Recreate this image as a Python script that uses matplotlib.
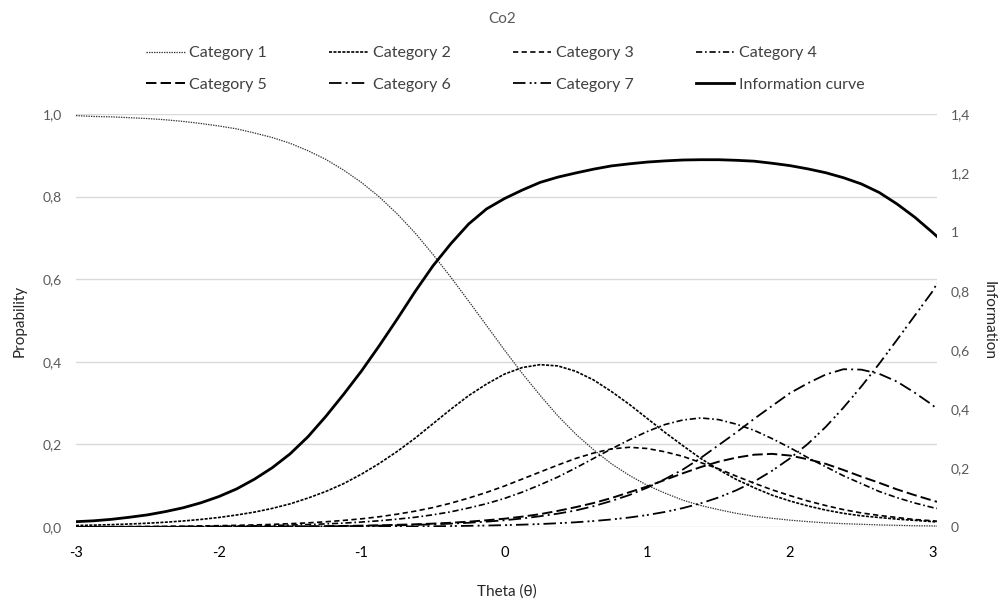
import matplotlib
matplotlib.use("Agg")
import matplotlib.pyplot as plt

plt.rcParams['font.family'] = ['Lato', 'DejaVu Sans']
plt.rcParams['lines.scale_dashes'] = False
plt.rcParams['axes.unicode_minus'] = False

# theta grid and values
theta = [-3, -2.875, -2.75, -2.625, -2.5, -2.375, -2.25, -2.125, -2, -1.875,
         -1.75, -1.625, -1.5, -1.375, -1.25, -1.125, -1, -0.875, -0.75, -0.625,
         -0.5, -0.375, -0.25, -0.125, 0, 0.125, 0.25, 0.375, 0.5, 0.625,
         0.75, 0.875, 1, 1.125, 1.25, 1.375, 1.5, 1.625, 1.75, 1.875,
         2, 2.125, 2.25, 2.375, 2.5, 2.625, 2.75, 2.875, 3, 3.03]

cat1 = [0.996, 0.994, 0.993, 0.991, 0.989, 0.986, 0.982, 0.977, 0.971, 0.964,
        0.954, 0.943, 0.929, 0.911, 0.890, 0.864, 0.834, 0.799, 0.758, 0.712,
        0.660, 0.605, 0.547, 0.488, 0.429, 0.372, 0.319, 0.269, 0.225, 0.187,
        0.153, 0.125, 0.101, 0.082, 0.065, 0.052, 0.042, 0.033, 0.026, 0.021,
        0.0165, 0.013, 0.010, 0.008, 0.0065, 0.005, 0.004, 0.003, 0.0025, 0.0023]
cat2 = [0.0035, 0.0045, 0.0057, 0.0072, 0.0091, 0.0115, 0.0145, 0.0183, 0.023, 0.029,
        0.036, 0.045, 0.056, 0.070, 0.086, 0.105, 0.128, 0.154, 0.183, 0.215,
        0.250, 0.285, 0.318, 0.346, 0.370, 0.386, 0.393, 0.390, 0.377, 0.356,
        0.328, 0.297, 0.263, 0.229, 0.197, 0.166, 0.139, 0.115, 0.095, 0.077,
        0.063, 0.051, 0.041, 0.033, 0.027, 0.023, 0.019, 0.016, 0.013, 0.012]
cat3 = [0.0005, 0.0006, 0.0008, 0.001, 0.0012, 0.0015, 0.0019, 0.0025, 0.0031, 0.004,
        0.005, 0.0063, 0.008, 0.010, 0.0126, 0.0159, 0.0198, 0.0248, 0.031, 0.0383,
        0.047, 0.0576, 0.070, 0.0837, 0.099, 0.116, 0.133, 0.150, 0.166, 0.179,
        0.189, 0.193, 0.190, 0.182, 0.171, 0.156, 0.141, 0.123, 0.106, 0.090,
        0.076, 0.063, 0.052, 0.042, 0.034, 0.028, 0.023, 0.018, 0.015, 0.014]
cat4 = [0.0003, 0.0003, 0.0004, 0.0006, 0.0007, 0.0009, 0.0011, 0.0014, 0.0018, 0.0023,
        0.0029, 0.0037, 0.0046, 0.0059, 0.0075, 0.0094, 0.012, 0.015, 0.019, 0.0235,
        0.0295, 0.0367, 0.046, 0.0563, 0.069, 0.0843, 0.102, 0.121, 0.143, 0.166,
        0.189, 0.211, 0.231, 0.248, 0.259, 0.264, 0.260, 0.249, 0.234, 0.214,
        0.192, 0.168, 0.146, 0.124, 0.105, 0.086, 0.071, 0.058, 0.047, 0.045]
cat5 = [0.0001, 0.0001, 0.0001, 0.0002, 0.0002, 0.0002, 0.0003, 0.0004, 0.0005, 0.0006,
        0.0008, 0.001, 0.0012, 0.0016, 0.002, 0.0025, 0.0032, 0.004, 0.0052, 0.0065,
        0.0081, 0.0102, 0.0128, 0.0162, 0.020, 0.025, 0.031, 0.039, 0.048, 0.058,
        0.070, 0.084, 0.098, 0.114, 0.130, 0.145, 0.158, 0.168, 0.175, 0.177,
        0.173, 0.164, 0.153, 0.138, 0.122, 0.107, 0.091, 0.077, 0.064, 0.061]
cat6 = [0.0001, 0.0001, 0.0001, 0.0001, 0.0001, 0.0002, 0.0002, 0.0003, 0.0004, 0.0005,
        0.0006, 0.0008, 0.001, 0.0012, 0.0016, 0.002, 0.0025, 0.0032, 0.004, 0.005,
        0.0064, 0.0081, 0.0102, 0.0129, 0.0163, 0.0205, 0.026, 0.0323, 0.040, 0.0504,
        0.063, 0.0773, 0.095, 0.116, 0.139, 0.167, 0.198, 0.229, 0.262, 0.293,
        0.324, 0.348, 0.369, 0.382, 0.381, 0.371, 0.352, 0.325, 0.295, 0.285]
cat7 = [0.0, 0.0, 0.0, 0.0, 0.0, 0.0001, 0.0001, 0.0001, 0.0001, 0.0001,
        0.0002, 0.0002, 0.0003, 0.0003, 0.0004, 0.0005, 0.0007, 0.0008, 0.0011, 0.0014,
        0.0017, 0.0022, 0.0028, 0.0035, 0.0044, 0.0056, 0.0071, 0.009, 0.0114, 0.0144,
        0.0182, 0.0229, 0.0289, 0.0364, 0.0457, 0.0572, 0.0714, 0.0889, 0.110, 0.136,
        0.166, 0.201, 0.242, 0.289, 0.340, 0.395, 0.453, 0.512, 0.571, 0.590]
info = [0.018, 0.021, 0.026, 0.033, 0.041, 0.052, 0.065, 0.082, 0.103, 0.129,
        0.162, 0.201, 0.248, 0.306, 0.375, 0.450, 0.529, 0.615, 0.705, 0.798,
        0.885, 0.960, 1.027, 1.078, 1.113, 1.142, 1.168, 1.186, 1.200, 1.213,
        1.224, 1.231, 1.237, 1.241, 1.244, 1.245, 1.245, 1.243, 1.240, 1.233,
        1.225, 1.214, 1.201, 1.184, 1.163, 1.134, 1.095, 1.050, 0.998, 0.985]

labels = ['Category 1', 'Category 2', 'Category 3', 'Category 4',
          'Category 5', 'Category 6', 'Category 7']
styles = [
    dict(ls=(0, (1, 0.8)), lw=0.9, color='#333333'),
    dict(ls=(0, (2.2, 1.0)), lw=1.2, color='black'),
    dict(ls=(0, (3.8, 2.4)), lw=1.2, color='black'),
    dict(ls=(0, (4.5, 2, 1.2, 2)), lw=1.2, color='black'),
    dict(ls=(0, (7.5, 3)), lw=1.4, color='black'),
    dict(ls=(0, (9, 3, 1.4, 3)), lw=1.3, color='black'),
    dict(ls=(0, (9, 3, 1.4, 2, 1.4, 3)), lw=1.3, color='black'),
]

grey = '#595959'
fig = plt.figure(figsize=(10.05, 6.06), dpi=100)
ax = fig.add_axes([0.0756, 0.1304, 0.8567, 0.6815])
ax2 = ax.twinx()

handles = []
for vals, lab, st in zip([cat1, cat2, cat3, cat4, cat5, cat6, cat7], labels, styles):
    h, = ax.plot(theta, vals, label=lab, **st)
    handles.append(h)
h, = ax2.plot(theta, info, color='black', lw=2.0, label='Information curve')
handles.append(h)

ax.set_xlim(-3, 3.03)
ax.set_ylim(0, 1.0)
ax2.set_ylim(0, 1.4)
ax.set_xticks([-3, -2, -1, 0, 1, 2, 3])
ax.set_yticks([0, 0.2, 0.4, 0.6, 0.8, 1.0])
ax.set_yticklabels(['0,0', '0,2', '0,4', '0,6', '0,8', '1,0'])
ax2.set_yticks([0, 0.2, 0.4, 0.6, 0.8, 1.0, 1.2, 1.4])
ax2.set_yticklabels(['0', '0,2', '0,4', '0,6', '0,8', '1', '1,2', '1,4'])

ax.grid(axis='y', color='#d9d9d9', lw=1.0)
ax.set_axisbelow(True)
for a in (ax, ax2):
    for s in a.spines.values():
        s.set_visible(False)
    a.tick_params(length=0, labelsize=10, labelcolor=grey)
ax.tick_params(axis='x', pad=14, labelcolor='black', labelsize=10.5)
ax.tick_params(axis='y', pad=10)
ax2.tick_params(axis='y', pad=10)

ax.set_xlabel('Theta (θ)', fontsize=11, color='#262626', labelpad=17)
ax.set_ylabel('Propability', fontsize=11, color='#262626', labelpad=12)
ax2.set_ylabel('Information', fontsize=11, color='#262626', rotation=270, labelpad=18)

fig.text(0.5, 0.968, 'Co2', ha='center', va='center', fontsize=11, color=grey)

order = [0, 4, 1, 5, 2, 6, 3, 7]
fig.legend([handles[i] for i in order], [handles[i].get_label() for i in order],
           loc='center', bbox_to_anchor=(0.503, 0.886), ncol=4, frameon=False,
           fontsize=11.5, handlelength=2.4, handletextpad=0.3, columnspacing=3.9,
           labelspacing=1.1, labelcolor='#404040')

fig.savefig('out.png', dpi=100)
